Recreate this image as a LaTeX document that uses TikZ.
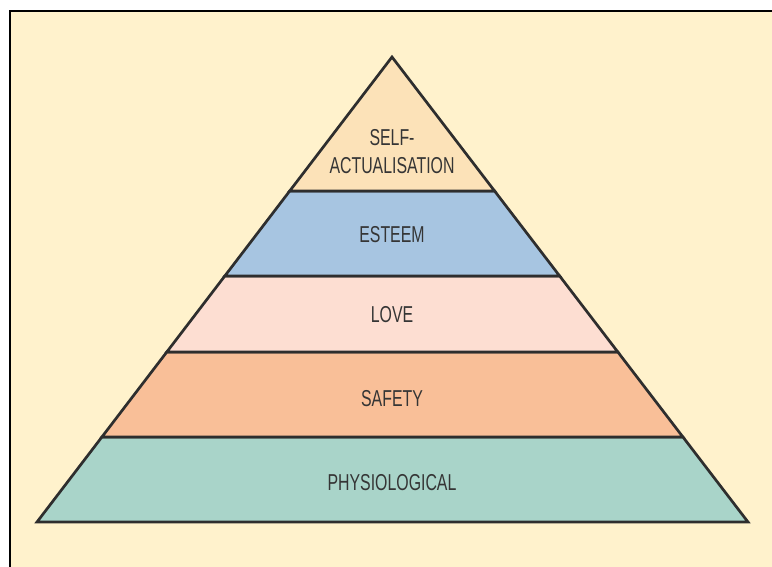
\documentclass[tikz,border=0pt]{standalone}
\usepackage{fontspec}
\usetikzlibrary{calc}
\setmainfont{Liberation Sans}[FakeStretch=0.69]
\definecolor{paper}{HTML}{FFF2CC}
\definecolor{edge}{HTML}{2E2E2E}
\definecolor{inkgray}{HTML}{353535}
\definecolor{selfc}{HTML}{FCE2B8}
\definecolor{esteemc}{HTML}{A7C5E1}
\definecolor{lovec}{HTML}{FDDED2}
\definecolor{safetyc}{HTML}{F9BF98}
\definecolor{physc}{HTML}{A9D4C9}
\tikzset{
  layer/.style={draw=edge, line width=2.7pt, line join=miter},
  label/.style={text=inkgray, font=\fontsize{23}{27}\selectfont, align=center, inner sep=0pt},
}
\begin{document}
\begin{tikzpicture}[x=1pt,y=-1pt]
  \useasboundingbox (0,0) rectangle (772,567);
  \fill[white] (0,0) rectangle (772,567);
  % framed panel
  \begin{scope}
    \clip (0,0) rectangle (772,567);
    \filldraw[fill=paper, draw=black, line width=2.6pt] (10,11) rectangle (790,590);
  \end{scope}
  % apex and base corners
  \coordinate (apex) at (392,57);
  \coordinate (bl) at (37,522);
  \coordinate (br) at (748,522);
  % layer boundaries on the two sides
  \foreach \n/\y in {1/191,2/276,3/352,4/437}{
    \coordinate (l\n) at ($(apex)!{(\y-57)/465}!(bl)$);
    \coordinate (r\n) at ($(apex)!{(\y-57)/465}!(br)$);
  }
  \path[layer, fill=physc]   (l4) -- (r4) -- (br) -- (bl) -- cycle;
  \path[layer, fill=safetyc] (l3) -- (r3) -- (r4) -- (l4) -- cycle;
  \path[layer, fill=lovec]   (l2) -- (r2) -- (r3) -- (l3) -- cycle;
  \path[layer, fill=esteemc] (l1) -- (r1) -- (r2) -- (l2) -- cycle;
  \path[layer, fill=selfc]   (apex) -- (r1) -- (l1) -- cycle;
  % level names
  \node[label] (self) at (392,152) {SELF-\\[1pt]ACTUALISATION};
  \node[label] (esteem) at (392,235) {ESTEEM};
  \node[label] (love) at (392,315) {LOVE};
  \node[label] (safety) at (392,399) {SAFETY};
  \node[label] (phys) at (392,483) {PHYSIOLOGICAL};
\end{tikzpicture}
\end{document}
